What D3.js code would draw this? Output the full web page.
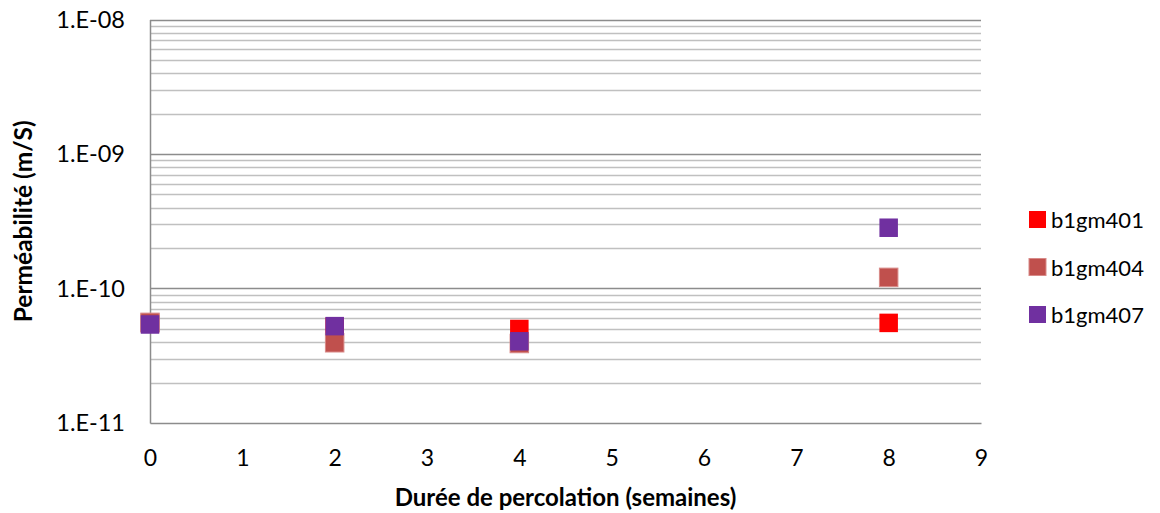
<!DOCTYPE html>
<html><head><meta charset="utf-8">
<script src="https://cdn.jsdelivr.net/npm/d3@7"></script>
<style>body{margin:0;background:#fff}svg{display:block}</style>
</head><body><svg id="c" width="1160" height="513"></svg>
<script>
const weeks = [0, 2, 4, 8];
const seriesNames = ["b1gm401", "b1gm404", "b1gm407"];
const b1gm401 = [5.5e-11, 5.2e-11, 5.0e-11, 5.55e-11];
const b1gm404 = [5.6e-11, 3.95e-11, 3.9e-11, 1.21e-10];
const b1gm407 = [5.4e-11, 5.25e-11, 4.05e-11, 2.83e-10];
const colors = ["#FF0000", "#C0504D", "#7030A0"];
const yTickValues = [1e-11, 1e-10, 1e-9, 1e-8];
const yTickLabels = ["1.E-11", "1.E-10", "1.E-09", "1.E-08"];
const xTickValues = [0,1,2,3,4,5,6,7,8,9];
const xTitle = "Durée de percolation (semaines)";
const yTitle = "Perméabilité (m/S)";

const svg = d3.select("#c");
const m = {l:150, r:981, t:19.5, b:423};
const x = d3.scaleLinear().domain([0,9]).range([m.l, m.r]);
const y = d3.scaleLog().domain([1e-11, 1e-8]).range([m.b, m.t]);
const font = "Lato, 'Open Sans', sans-serif";

// minor grid
const minor = [];
for (let e = -11; e < -8; e++) for (let k = 2; k <= 9; k++) minor.push(k * Math.pow(10, e));
svg.append("g").selectAll("line").data(minor).join("line")
  .attr("x1", m.l).attr("x2", m.r)
  .attr("y1", d => Math.round(y(d)) + 0.5).attr("y2", d => Math.round(y(d)) + 0.5)
  .attr("stroke", "#c0c0c0").attr("stroke-width", 1.3);
// major grid
svg.append("g").selectAll("line").data([1e-10, 1e-9, 1e-8]).join("line")
  .attr("x1", m.l).attr("x2", m.r)
  .attr("y1", d => Math.round(y(d)) + 0.5).attr("y2", d => Math.round(y(d)) + 0.5)
  .attr("stroke", "#8c8c8c").attr("stroke-width", 1.5);

// axes
const xAxis = d3.axisBottom(x).tickValues(xTickValues).tickSize(0).tickPadding(27);
const gx = svg.append("g").attr("transform", `translate(0,${m.b})`).call(xAxis);
gx.select(".domain").attr("stroke", "#8c8c8c").attr("stroke-width", 1.5);
gx.selectAll("text").attr("font-family", font).attr("font-size", 23).attr("fill", "#000");

const yAxis = d3.axisLeft(y).tickValues(yTickValues).tickFormat((d,i) => yTickLabels[i]).tickSize(0).tickPadding(25);
const gy = svg.append("g").attr("transform", `translate(${m.l},0)`).call(yAxis);
gy.select(".domain").attr("stroke", "#8c8c8c").attr("stroke-width", 1.5);
gy.selectAll("text").attr("font-family", font).attr("font-size", 23.5).attr("fill", "#000");

// titles
svg.append("text").attr("x", (m.l + m.r)/2).attr("y", 506).attr("text-anchor", "middle")
  .attr("font-family", font).attr("font-weight", "bold").attr("font-size", 24).text(xTitle);
svg.append("text").attr("transform", `translate(22.5,${(m.t+m.b)/2}) rotate(-90)`).attr("text-anchor", "middle")
  .attr("dominant-baseline", "central")
  .attr("font-family", font).attr("font-weight", "bold").attr("font-size", 24.5).text(yTitle);

// points
const all = [b1gm401, b1gm404, b1gm407];
const s = 18.5;
all.forEach((vals, i) => {
  svg.append("g").selectAll("rect").data(vals).join("rect")
    .attr("x", (d, j) => x(weeks[j]) - s/2).attr("y", d => y(d) - s/2)
    .attr("width", s).attr("height", s).attr("fill", colors[i])
    .attr("stroke", i === 1 ? "#d88a88" : "none").attr("stroke-width", 1);
});

// legend
const lg = svg.append("g");
seriesNames.forEach((n, i) => {
  const cy = 219.5 + i * 47.5;
  lg.append("rect").attr("x", 1029).attr("y", cy - 8.5).attr("width", 17).attr("height", 17)
    .attr("fill", colors[i]).attr("stroke", i === 1 ? "#d88a88" : "none");
  lg.append("text").attr("x", 1051).attr("y", cy).attr("dominant-baseline", "central")
    .attr("font-family", font).attr("font-size", 22).text(n);
});
</script></body></html>
